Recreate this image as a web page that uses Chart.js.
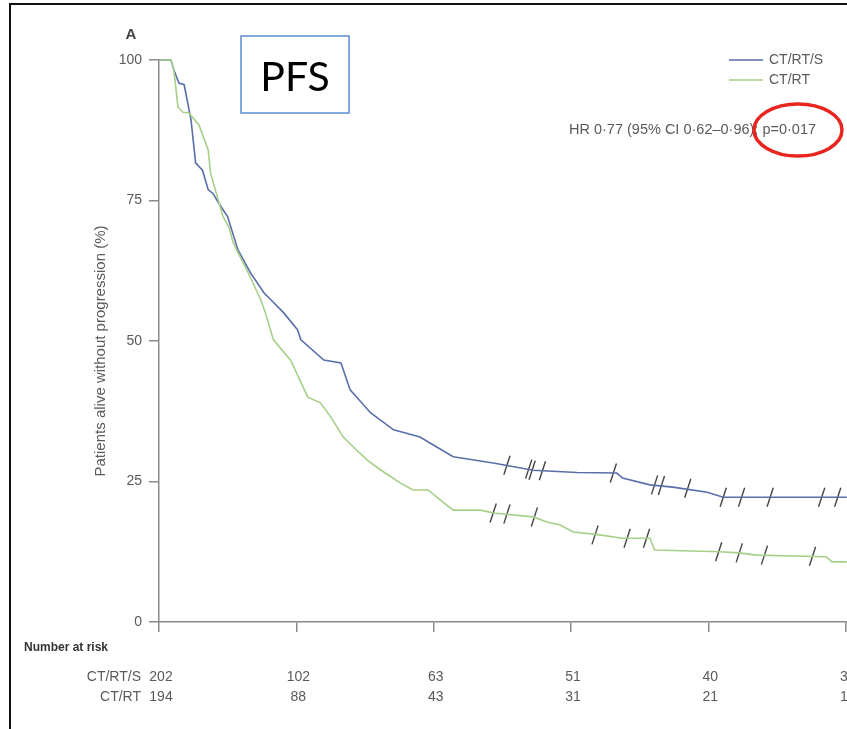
<!DOCTYPE html>
<html>
<head>
<meta charset="utf-8">
<script src="https://cdn.jsdelivr.net/npm/chart.js@4.4.1/dist/chart.umd.min.js"></script>
<style>
  html, body { margin: 0; padding: 0; background: #fff; overflow: hidden; }
  #wrap { position: relative; width: 847px; height: 729px; overflow: hidden; }
  canvas { position: absolute; left: 0; top: 0; }
</style>
</head>
<body>
<div id="wrap"><canvas id="km" width="880" height="729"></canvas></div>
<script>
// values (months, % without progression)
var riskTimes = [0, 12, 24, 36, 48, 60];
var riskCTRTS = [202, 102, 63, 51, 40, 32];
var riskCTRT = [194, 88, 43, 31, 21, 13];
var yTicks = [0, 25, 50, 75, 100];

var ctrtsTime = [0, 1.05, 1.3, 1.74, 2.2, 2.8, 3.2, 3.8, 4.3, 4.7, 5.2, 6.0, 6.9, 8.0, 9.2, 9.8, 10.9, 12.1, 12.4, 14.4, 15.9, 16.7, 18.5, 20.5, 22.8, 24.3, 25.7, 29.2, 32.7, 36.5, 40.0, 40.5, 42.9, 44.9, 47.9, 49.3, 60.1];
var ctrtsPct  = [100, 100, 98.2, 95.9, 95.6, 89.3, 81.7, 80.4, 76.9, 76.3, 74.6, 72.1, 66.2, 62.1, 58.5, 57.3, 55.0, 52.0, 50.2, 46.6, 46.1, 41.3, 37.2, 34.2, 32.9, 31.1, 29.4, 28.3, 27.0, 26.6, 26.5, 25.6, 24.4, 24.0, 23.1, 22.2, 22.2];

var ctrtTime = [0, 1.05, 1.3, 1.66, 2.1, 2.6, 3.5, 4.3, 4.5, 5.1, 5.6, 6.1, 6.5, 7.8, 8.9, 9.3, 10.0, 11.5, 13.0, 14.1, 15.0, 16.1, 17.0, 18.2, 19.4, 21.1, 22.2, 23.5, 24.6, 25.7, 28.1, 29.2, 32.7, 33.9, 35.0, 36.2, 38.5, 40.5, 42.9, 43.3, 49.0, 50.7, 52.2, 58.3, 58.8, 60.1];
var ctrtPct  = [100, 100, 98.2, 91.6, 90.7, 90.6, 88.4, 84.0, 79.9, 75.6, 72.1, 70.3, 67.4, 62.1, 57.3, 55.0, 50.2, 46.6, 40.0, 39.0, 36.5, 32.9, 31.1, 28.8, 27.0, 24.7, 23.5, 23.5, 21.7, 19.9, 19.9, 19.4, 18.7, 17.8, 17.3, 16.0, 15.5, 14.9, 14.9, 12.8, 12.5, 12.3, 11.9, 11.6, 10.7, 10.7];

var ctrtsCensorTime = [30.4, 32.3, 32.6, 33.5, 39.7, 43.3, 43.9, 46.2, 49.3, 50.9, 53.4, 57.9, 59.3];
var ctrtsCensorPct  = [27.9, 27.2, 27.0, 26.9, 26.5, 24.4, 24.3, 23.8, 22.2, 22.2, 22.2, 22.2, 22.2];
var ctrtCensorTime = [29.2, 30.4, 32.8, 38.1, 40.9, 42.6, 48.9, 50.7, 52.9, 57.1];
var ctrtCensorPct  = [19.4, 19.2, 18.7, 15.5, 14.9, 14.9, 12.5, 12.3, 11.9, 11.7];

var BLUE = '#5a6ea9';
var GREEN = '#a6cf88';
var AXIS = '#8a8a8a';
var TEXT = '#5a5a5a';
var SANS = '"Liberation Sans", Arial, sans-serif';

function pts(xs, ys) {
  return xs.map(function (x, i) { return { x: x, y: ys[i] }; });
}

var decorations = {
  id: 'decorations',
  afterDraw: function (chart) {
    var ctx = chart.ctx;
    var xs = chart.scales.x;
    ctx.save();

    // frame of the cropped figure
    ctx.strokeStyle = '#111';
    ctx.lineWidth = 2;
    ctx.beginPath();
    ctx.moveTo(10, 729);
    ctx.lineTo(10, 4);
    ctx.lineTo(880, 4);
    ctx.stroke();

    // panel letter
    ctx.fillStyle = '#444';
    ctx.font = 'bold 15px ' + SANS;
    ctx.textAlign = 'center';
    ctx.textBaseline = 'middle';
    ctx.fillText('A', 131, 35);

    // y axis title
    ctx.save();
    ctx.translate(101, 351);
    ctx.rotate(-Math.PI / 2);
    ctx.font = '15px ' + SANS;
    ctx.fillStyle = TEXT;
    ctx.fillText('Patients alive without progression (%)', 0, 0);
    ctx.restore();

    // legend
    ctx.lineWidth = 1.5;
    ctx.strokeStyle = BLUE;
    ctx.beginPath(); ctx.moveTo(729, 60); ctx.lineTo(763, 60); ctx.stroke();
    ctx.strokeStyle = GREEN;
    ctx.beginPath(); ctx.moveTo(729, 80); ctx.lineTo(763, 80); ctx.stroke();
    ctx.font = '14px ' + SANS;
    ctx.fillStyle = TEXT;
    ctx.textAlign = 'left';
    ctx.fillText('CT/RT/S', 769, 60);
    ctx.fillText('CT/RT', 769, 80);

    // hazard ratio
    ctx.font = '14.5px ' + SANS;
    ctx.fillText('HR 0\u00b777 (95% CI 0\u00b762\u20130\u00b796); p=0\u00b7017', 569, 130);

    // number at risk
    ctx.font = 'bold 12px ' + SANS;
    ctx.fillStyle = '#333';
    ctx.fillText('Number at risk', 24, 648);
    ctx.font = '14px ' + SANS;
    ctx.fillStyle = TEXT;
    ctx.textAlign = 'right';
    ctx.fillText('CT/RT/S', 141, 677);
    ctx.fillText('CT/RT', 141, 697);
    ctx.textAlign = 'center';
    riskTimes.forEach(function (t, i) {
      var px = xs.getPixelForValue(t) + 2;
      ctx.fillText(String(riskCTRTS[i]), px, 677);
      ctx.fillText(String(riskCTRT[i]), px, 697);
    });

    // annotation box
    ctx.strokeStyle = '#5b8ccf';
    ctx.lineWidth = 1.5;
    ctx.strokeRect(241, 36, 108, 77);
    ctx.fillStyle = '#000';
    ctx.font = '41px Lato, ' + SANS;
    ctx.fillText('PFS', 295, 78);

    // red ellipse around p value
    ctx.strokeStyle = '#e8261f';
    ctx.lineWidth = 3.5;
    ctx.beginPath();
    ctx.ellipse(798, 130, 44, 26, 0, 0, Math.PI * 2);
    ctx.stroke();

    ctx.restore();
  }
};

var censorStyle = {
  type: 'line',
  showLine: false,
  pointStyle: 'line',
  pointRadius: 10,
  pointRotation: -72,
  pointBorderWidth: 1.4,
  borderColor: '#444',
  backgroundColor: '#444',
  clip: false
};

new Chart(document.getElementById('km'), {
  type: 'line',
  data: {
    datasets: [
      { label: 'CT/RT', data: pts(ctrtTime, ctrtPct), borderColor: GREEN, borderWidth: 1.6, pointRadius: 0, tension: 0, clip: false },
      { label: 'CT/RT/S', data: pts(ctrtsTime, ctrtsPct), borderColor: BLUE, borderWidth: 1.6, pointRadius: 0, tension: 0, clip: false },
      Object.assign({ label: 'CT/RT censored', data: pts(ctrtCensorTime, ctrtCensorPct) }, censorStyle),
      Object.assign({ label: 'CT/RT/S censored', data: pts(ctrtsCensorTime, ctrtsCensorPct) }, censorStyle)
    ]
  },
  options: {
    responsive: false,
    animation: false,
    devicePixelRatio: 1,
    layout: { padding: { left: 0, top: 60, right: 0, bottom: 0 } },
    plugins: { legend: { display: false }, tooltip: { enabled: false } },
    scales: {
      x: {
        type: 'linear',
        min: 0,
        max: 62,
        afterBuildTicks: function (s) { s.ticks = riskTimes.map(function (v) { return { value: v }; }); },
        afterFit: function (s) { s.height = 107; },
        ticks: { display: false },
        grid: { drawOnChartArea: false, drawTicks: true, tickLength: 10, color: AXIS, lineWidth: 1.5 },
        border: { color: AXIS, width: 1.5 }
      },
      y: {
        min: 0,
        max: 100,
        afterBuildTicks: function (s) { s.ticks = yTicks.map(function (v) { return { value: v }; }); },
        afterFit: function (s) { s.width = 159; },
        ticks: { color: TEXT, padding: 7, font: { family: SANS, size: 14 } },
        grid: { drawOnChartArea: false, drawTicks: true, tickLength: 10, color: AXIS, lineWidth: 1.5 },
        border: { color: AXIS, width: 1.5 }
      }
    }
  },
  plugins: [decorations]
});
</script>
</body>
</html>
